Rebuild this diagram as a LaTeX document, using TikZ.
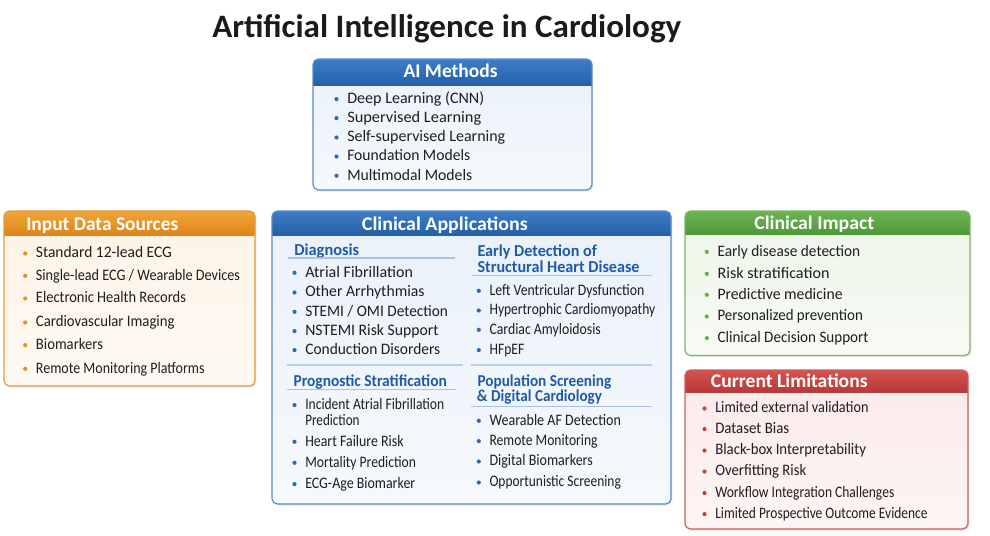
\documentclass[tikz,border=0pt]{standalone}
\usepackage{fontspec}
\usepackage{graphicx}
\setmainfont{Carlito}
\usetikzlibrary{shadows}
\definecolor{txt}{HTML}{1E1E1E}
\definecolor{blueA}{HTML}{3E7EC6}
\definecolor{blueB}{HTML}{2360A8}
\definecolor{blueL}{HTML}{5A8CC8}
\definecolor{blueF}{HTML}{EAF1FA}
\definecolor{blueT}{HTML}{1F5AA6}
\definecolor{blueU}{HTML}{A9C3E2}
\definecolor{orA}{HTML}{F0A53A}
\definecolor{orB}{HTML}{E0851A}
\definecolor{orL}{HTML}{E49A3A}
\definecolor{orF}{HTML}{FDF3E5}
\definecolor{orD}{HTML}{E8901E}
\definecolor{grA}{HTML}{6DB452}
\definecolor{grB}{HTML}{4D993A}
\definecolor{grL}{HTML}{7DB566}
\definecolor{grF}{HTML}{EEF5E8}
\definecolor{grD}{HTML}{6BAF50}
\definecolor{rdA}{HTML}{D5534F}
\definecolor{rdB}{HTML}{B8393A}
\definecolor{rdL}{HTML}{CD5E5C}
\definecolor{rdF}{HTML}{FBE9E9}
\definecolor{rdD}{HTML}{C8403E}
\definecolor{blD}{HTML}{2C6BB5}
\newlength\wpx
\setlength\wpx{0.75pt}
% text squeezed or stretched to a width given in px
\newcommand\fw[2]{\resizebox{#1\wpx}{\height}{#2}}
% #1 x1 #2 y1 #3 x2 #4 y2 #5 header bottom #6 top col #7 bottom col #8 border #9 body
\newcommand\panel[9]{%
  \shade[top color=#9, bottom color=#9!45!white, rounded corners=4pt,
    drop shadow={opacity=0.18, shadow xshift=1pt, shadow yshift=-1.2pt}]
    (#1,#2) rectangle (#3,#4);
  \begin{scope}
    \clip[rounded corners=4pt] (#1,#2) rectangle (#3,#4);
    \shade[top color=#6, bottom color=#7] (#1,#2) rectangle (#3,#5);
  \end{scope}
  \draw[#8, line width=0.9pt, rounded corners=4pt] (#1,#2) rectangle (#3,#4);
}
% #1 name #2 text x #3 centre y #4 width px #5 text #6 bullet colour
\newcommand\itm[6]{%
  \fill[#6] (#2-10.5,#3+0.8) circle (2.1);
  \node[item, anchor=base west] (#1) at (#2,#3+5) {\fw{#4}{#5}};
}
\begin{document}
\begin{tikzpicture}[x=0.75pt, y=-0.75pt,
  item/.style={inner sep=0pt, text=txt, font=\fontsize{12}{14}\selectfont},
  head/.style={inner sep=0pt, text=white, font=\fontsize{14.5}{17}\selectfont\bfseries},
  subt/.style={inner sep=0pt, text=blueT, font=\fontsize{12.5}{15}\selectfont\bfseries},
  uline/.style={draw=blueU, line width=0.8pt},
  sep/.style={draw=blueU!80!white, line width=0.8pt}]
\useasboundingbox (0,0) rectangle (990,536);
\fill[white] (0,0) rectangle (990,536);

% title
\node[inner sep=0pt, text=txt!90!black, font=\fontsize{24.5}{28}\selectfont\bfseries, anchor=base west]
  (title) at (212,37) {\fw{469}{Artificial Intelligence in Cardiology}};

% AI Methods
\panel{313}{59}{592}{190}{85}{blueA}{blueB}{blueL}{blueF}
\node[head, anchor=base west] (aih) at (403.3,77) {\fw{94}{AI Methods}};
\itm{ai1}{347}{98.3}{137}{Deep Learning (CNN)}{blD}
\itm{ai2}{347}{117.3}{134}{Supervised Learning}{blD}
\itm{ai3}{347}{136.7}{158}{Self-supervised Learning}{blD}
\itm{ai4}{347}{155.7}{123}{Foundation Models}{blD}
\itm{ai5}{347}{175}{125}{Multimodal Models}{blD}

% Input Data Sources
\panel{4}{211}{255}{386}{235}{orA}{orB}{orL}{orF}
\node[head, anchor=base west] (inh) at (26,230) {\fw{152}{Input Data Sources}};
\itm{in1}{35.7}{252.7}{136}{Standard 12-lead ECG}{orD}
\itm{in2}{35.7}{275}{204}{Single-lead ECG / Wearable Devices}{orD}
\itm{in3}{35.7}{297.7}{150}{Electronic Health Records}{orD}
\itm{in4}{35.7}{321.7}{138.6}{Cardiovascular Imaging}{orD}
\itm{in5}{35.7}{344.3}{67}{Biomarkers}{orD}
\itm{in6}{35.7}{368}{168.6}{Remote Monitoring Platforms}{orD}

% Clinical Applications
\panel{272}{211}{671}{504}{235}{blueA}{blueB}{blueL}{blueF}
\node[head, anchor=base west] (cah) at (361.7,230) {\fw{165.7}{Clinical Applications}};
% Diagnosis
\node[subt, anchor=base west] (dg) at (294,255.5) {\fw{65}{Diagnosis}};
\draw[uline] (288,258) -- (455,258);
\itm{dg1}{305}{272}{107.7}{Atrial Fibrillation}{blD}
\itm{dg2}{305}{291.7}{119.3}{Other Arrhythmias}{blD}
\itm{dg3}{305}{311}{142.7}{STEMI / OMI Detection}{blD}
\itm{dg4}{305}{330.3}{133.3}{NSTEMI Risk Support}{blD}
\itm{dg5}{305}{349.3}{135}{Conduction Disorders}{blD}
% Early detection
\node[subt, anchor=base west] (ed) at (477.3,256.5) {\fw{119.3}{Early Detection of}};
\node[subt, anchor=base west] (ed2) at (477.3,272) {\fw{162}{Structural Heart Disease}};
\draw[uline] (472,275.5) -- (652,275.5);
\itm{ed1}{489.3}{290}{154.7}{Left Ventricular Dysfunction}{blD}
\itm{ed2}{489.3}{309.7}{165.7}{Hypertrophic Cardiomyopathy}{blD}
\itm{ed3}{489.3}{329}{111.3}{Cardiac Amyloidosis}{blD}
\itm{ed4}{489.3}{349.3}{34.7}{HFpEF}{blD}
% separators
\draw[sep] (287,365) -- (463,365);
\draw[sep] (471,365) -- (652,365);
% Prognostic
\node[subt, anchor=base west] (pr) at (293.3,386.5) {\fw{153.3}{Prognostic Stratification}};
\draw[uline] (287,389.5) -- (456,389.5);
\itm{pr1}{305}{404.3}{139}{Incident Atrial Fibrillation}{blD}
\node[item, anchor=base west] (pr1b) at (305,425) {\fw{54.3}{Prediction}};
\itm{pr2}{305}{441}{98.3}{Heart Failure Risk}{blD}
\itm{pr3}{305}{462}{110.7}{Mortality Prediction}{blD}
\itm{pr4}{305}{483.3}{110}{ECG-Age Biomarker}{blD}
% Population screening
\node[subt, anchor=base west] (ps) at (477.3,386.5) {\fw{133.7}{Population Screening}};
\node[subt, anchor=base west] (ps2) at (476.7,401.5) {\fw{125}{\& Digital Cardiology}};
\draw[uline] (471,406.3) -- (652,406.3);
\itm{ps1}{489.3}{420}{131.3}{Wearable AF Detection}{blD}
\itm{ps2}{489.3}{440.3}{108}{Remote Monitoring}{blD}
\itm{ps3}{489.3}{460.7}{103.3}{Digital Biomarkers}{blD}
\itm{ps4}{489.3}{481.7}{131.3}{Opportunistic Screening}{blD}

% Clinical Impact
\panel{685}{211}{970}{355.5}{234}{grA}{grB}{grL}{grF}
\node[head, anchor=base west] (cih) at (754,229) {\fw{120}{Clinical Impact}};
\itm{ci1}{717.3}{251}{142.7}{Early disease detection}{grD}
\itm{ci2}{717.3}{273}{112}{Risk stratification}{grD}
\itm{ci3}{717.3}{294}{125}{Predictive medicine}{grD}
\itm{ci4}{717.3}{315.7}{145.3}{Personalized prevention}{grD}
\itm{ci5}{717.3}{337.3}{151}{Clinical Decision Support}{grD}

% Current Limitations
\panel{685}{370}{968}{529}{392}{rdA}{rdB}{rdL}{rdF}
\node[head, anchor=base west] (clh) at (710.7,387.5) {\fw{156.7}{Current Limitations}};
\itm{cl1}{715}{407.7}{153.3}{Limited external validation}{rdD}
\itm{cl2}{715}{428.3}{74}{Dataset Bias}{rdD}
\itm{cl3}{715}{449.7}{150.7}{Black-box Interpretability}{rdD}
\itm{cl4}{715}{470.7}{91}{Overfitting Risk}{rdD}
\itm{cl5}{715}{492.3}{179}{Workflow Integration Challenges}{rdD}
\itm{cl6}{715}{513.3}{212.3}{Limited Prospective Outcome Evidence}{rdD}
\end{tikzpicture}
\end{document}
